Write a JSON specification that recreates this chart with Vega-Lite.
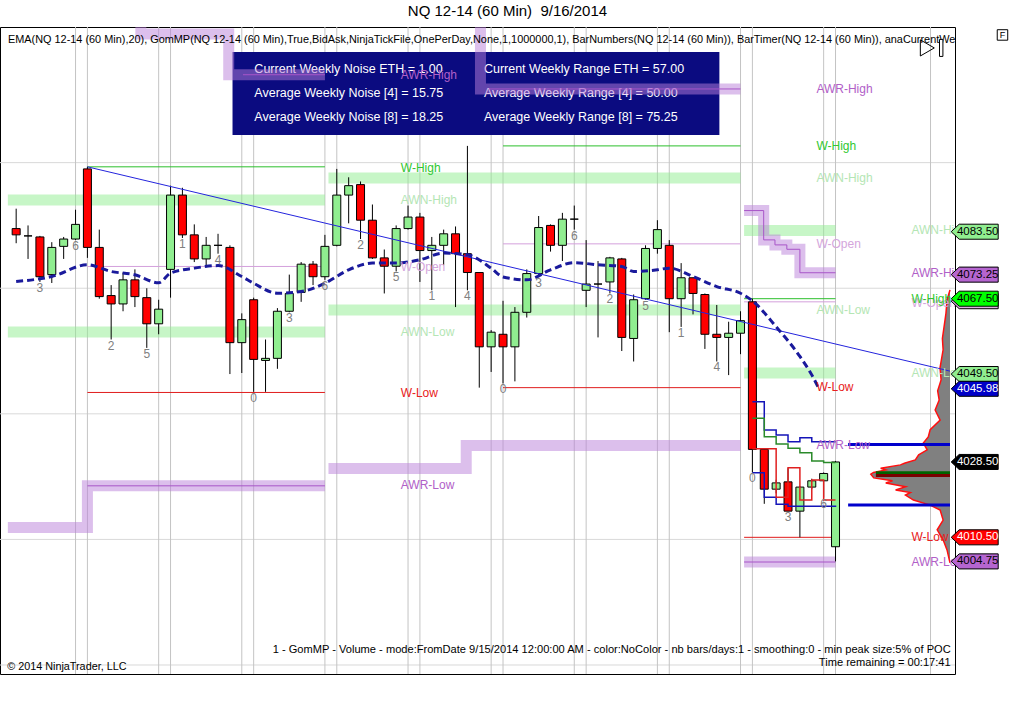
{
  "$schema": "https://vega.github.io/schema/vega-lite/v6.json",
  "description": "NQ 12-14 (60 Min) 9/16/2014 candlestick chart with weekly noise and range levels",
  "autosize": "none",
  "width": 955,
  "height": 647,
  "padding": {"left": 0, "top": 27, "right": 61, "bottom": 46},
  "background": "white",
  "title": {
    "text": "NQ 12-14 (60 Min)\u00a0 9/16/2014",
    "fontSize": 15,
    "fontWeight": "normal",
    "font": "Liberation Sans",
    "color": "black",
    "anchor": "middle",
    "dx": 30,
    "offset": 8
  },
  "config": {
    "font": "Liberation Sans",
    "view": {"stroke": "black", "strokeWidth": 1},
    "text": {"font": "Liberation Sans"}
  },
  "datasets": {
    "hgrid": [{"p": 3980}, {"p": 4010}, {"p": 4040}, {"p": 4070}, {"p": 4100}],
    "vgrid": [
      {"x": 5}, {"x": 6}, {"x": 12}, {"x": 13}, {"x": 19}, {"x": 20}, {"x": 26}, {"x": 27},
      {"x": 33}, {"x": 34}, {"x": 40}, {"x": 41}, {"x": 47}, {"x": 48}, {"x": 54}, {"x": 55},
      {"x": 61}, {"x": 62}, {"x": 68}, {"x": 69}, {"x": 77}
    ],
    "box": [{"x": 18.22, "x2": 59.22, "p": 4126.45, "p2": 4106.6}],
    "boxtext": [
      {"t": "Current Weekly Noise ETH = 1.00", "x": 20.06, "p": 4122.4},
      {"t": "Average Weekly Noise [4] = 15.75", "x": 20.06, "p": 4116.65},
      {"t": "Average Weekly Noise [8] = 18.25", "x": 20.06, "p": 4110.9},
      {"t": "Current Weekly Range ETH = 57.00", "x": 39.39, "p": 4122.4},
      {"t": "Average Weekly Range [4] = 50.00", "x": 39.39, "p": 4116.65},
      {"t": "Average Weekly Range [8] = 75.25", "x": 39.39, "p": 4110.9}
    ],
    "bands": [
      {"id": "g1h", "k": "AWN", "x": -0.7, "p": 4091.1}, {"id": "g1h", "k": "AWN", "x": 26, "p": 4091.1},
      {"id": "g1l", "k": "AWN", "x": -0.7, "p": 4059.55}, {"id": "g1l", "k": "AWN", "x": 26, "p": 4059.55},
      {"id": "g2h", "k": "AWN", "x": 26.3, "p": 4096.35}, {"id": "g2h", "k": "AWN", "x": 61, "p": 4096.35},
      {"id": "g2l", "k": "AWN", "x": 26.3, "p": 4064.8}, {"id": "g2l", "k": "AWN", "x": 61, "p": 4064.8},
      {"id": "g3h", "k": "AWN", "x": 61.3, "p": 4083.8}, {"id": "g3h", "k": "AWN", "x": 69, "p": 4083.8},
      {"id": "g3l", "k": "AWN", "x": 61.3, "p": 4049.75}, {"id": "g3l", "k": "AWN", "x": 69, "p": 4049.75},
      {"id": "p1h", "k": "AWR", "x": 6, "p": 4140}, {"id": "p1h", "k": "AWR", "x": 10.5, "p": 4130.75},
      {"id": "p1h", "k": "AWR", "x": 17.9, "p": 4121}, {"id": "p1h", "k": "AWR", "x": 26, "p": 4121},
      {"id": "p1l", "k": "AWR", "x": -0.7, "p": 4012.85}, {"id": "p1l", "k": "AWR", "x": 6, "p": 4022.8},
      {"id": "p1l", "k": "AWR", "x": 26, "p": 4022.8},
      {"id": "p2h", "k": "AWR", "x": 26.3, "p": 4140}, {"id": "p2h", "k": "AWR", "x": 39.1, "p": 4117.6},
      {"id": "p2h", "k": "AWR", "x": 61, "p": 4117.6},
      {"id": "p2l", "k": "AWR", "x": 26.3, "p": 4026.95}, {"id": "p2l", "k": "AWR", "x": 37.9, "p": 4032.45},
      {"id": "p2l", "k": "AWR", "x": 61, "p": 4032.45},
      {"id": "p3h", "k": "AWR", "x": 61.3, "p": 4088.55}, {"id": "p3h", "k": "AWR", "x": 62.95, "p": 4081.55},
      {"id": "p3h", "k": "AWR", "x": 63.9, "p": 4080.35}, {"id": "p3h", "k": "AWR", "x": 64.9, "p": 4079.3},
      {"id": "p3h", "k": "AWR", "x": 66, "p": 4073.7}, {"id": "p3h", "k": "AWR", "x": 69, "p": 4073.7},
      {"id": "p3l", "k": "AWR", "x": 61.3, "p": 4004.6}, {"id": "p3l", "k": "AWR", "x": 69, "p": 4004.6}
    ],
    "awrline": [
      {"id": "l1h", "x": 19.1, "p": 4121}, {"id": "l1h", "x": 26, "p": 4121},
      {"id": "l1l", "x": 6, "p": 4022.8}, {"id": "l1l", "x": 26, "p": 4022.8},
      {"id": "l2h", "x": 39.8, "p": 4117.6}, {"id": "l2h", "x": 61, "p": 4117.6},
      {"id": "l3h", "x": 61.3, "p": 4088.55}, {"id": "l3h", "x": 62.95, "p": 4081.55},
      {"id": "l3h", "x": 63.9, "p": 4080.35}, {"id": "l3h", "x": 64.9, "p": 4079.3},
      {"id": "l3h", "x": 66, "p": 4073.7}, {"id": "l3h", "x": 69, "p": 4073.7},
      {"id": "l3l", "x": 61.3, "p": 4004.6}, {"id": "l3l", "x": 69, "p": 4004.6}
    ],
    "hlines": [
      {"k": "WH", "x": 6, "x2": 26, "p": 4099}, {"k": "WH", "x": 41, "x2": 61, "p": 4104},
      {"k": "WH", "x": 61.3, "x2": 69, "p": 4067.5},
      {"k": "WO", "x": 6, "x2": 26, "p": 4075.2}, {"k": "WO", "x": 41, "x2": 61, "p": 4080.6},
      {"k": "WO", "x": 61.3, "x2": 69, "p": 4066.75},
      {"k": "WL", "x": 6, "x2": 26, "p": 4045.1}, {"k": "WL", "x": 41, "x2": 61, "p": 4046.25},
      {"k": "WL", "x": 61.3, "x2": 69, "p": 4010.5}
    ],
    "profile": [
      {"x": 78.64, "p": 4069.6}, {"x": 78.39, "p": 4067.2}, {"x": 78.3, "p": 4064.0},
      {"x": 78.22, "p": 4062.4}, {"x": 78.0, "p": 4058.0}, {"x": 78.06, "p": 4055.3},
      {"x": 77.8, "p": 4051.0}, {"x": 77.89, "p": 4048.1}, {"x": 77.6, "p": 4045.5},
      {"x": 77.73, "p": 4043.3}, {"x": 77.39, "p": 4040.9}, {"x": 77.81, "p": 4038.5},
      {"x": 76.97, "p": 4036.2}, {"x": 76.81, "p": 4034.5}, {"x": 76.39, "p": 4033.0},
      {"x": 76.72, "p": 4031.4}, {"x": 76.0, "p": 4030.2}, {"x": 75.72, "p": 4029.0},
      {"x": 74.8, "p": 4028.2}, {"x": 74.47, "p": 4027.8}, {"x": 72.8, "p": 4027.0},
      {"x": 73.23, "p": 4026.6}, {"x": 72.2, "p": 4026.0}, {"x": 71.97, "p": 4025.6},
      {"x": 72.22, "p": 4024.7}, {"x": 73.8, "p": 4024.0}, {"x": 73.23, "p": 4023.5},
      {"x": 74.9, "p": 4022.6}, {"x": 74.06, "p": 4021.8}, {"x": 75.3, "p": 4021.2},
      {"x": 74.89, "p": 4020.6}, {"x": 75.56, "p": 4019.4}, {"x": 76.97, "p": 4018.2},
      {"x": 77.81, "p": 4017.0}, {"x": 78.06, "p": 4014.6}, {"x": 77.56, "p": 4012.3},
      {"x": 78.06, "p": 4009.9}, {"x": 78.39, "p": 4007.5}, {"x": 78.64, "p": 4004.4}
    ],
    "va": [
      {"k": "VA", "x": 70.06, "x2": 78.64, "p": 4032.7},
      {"k": "VA", "x": 70.06, "x2": 78.64, "p": 4018.2},
      {"k": "POCg", "x": 72.4, "x2": 78.64, "p": 4025.9},
      {"k": "POCr", "x": 72.4, "x2": 78.64, "p": 4025.25}
    ],
    "dev": [
      {"id": "vah", "x": 62, "p": 4042.9}, {"id": "vah", "x": 63, "p": 4036.15}, {"id": "vah", "x": 64, "p": 4034.95},
      {"id": "vah", "x": 65, "p": 4033.35}, {"id": "vah", "x": 66, "p": 4034.3}, {"id": "vah", "x": 67, "p": 4033.35},
      {"id": "vah", "x": 69, "p": 4033.35},
      {"id": "val", "x": 62, "p": 4025.95}, {"id": "val", "x": 63, "p": 4020.1}, {"id": "val", "x": 64, "p": 4018.4},
      {"id": "val", "x": 65, "p": 4017.9}, {"id": "val", "x": 69, "p": 4018.1},
      {"id": "mid", "x": 62, "p": 4038.95}, {"id": "mid", "x": 63, "p": 4034.55}, {"id": "mid", "x": 64, "p": 4032.8},
      {"id": "mid", "x": 65, "p": 4031.8}, {"id": "mid", "x": 66, "p": 4030.7}, {"id": "mid", "x": 67, "p": 4028.75},
      {"id": "mid", "x": 68, "p": 4028.35}, {"id": "mid", "x": 69, "p": 4028.35},
      {"id": "poc", "x": 62, "p": 4031.65}, {"id": "poc", "x": 64, "p": 4020.1}, {"id": "poc", "x": 65, "p": 4027.1},
      {"id": "poc", "x": 66, "p": 4019.4}, {"id": "poc", "x": 67, "p": 4024.2}, {"id": "poc", "x": 68, "p": 4019.4},
      {"id": "poc", "x": 69, "p": 4019.4}
    ],
    "trend": [{"x": 6, "x2": 78.64, "p": 4099, "p2": 4050.2}],
    "ema": [
      {"x": 0, "p": 4071.6}, {"x": 3, "p": 4072.8}, {"x": 6, "p": 4075.6}, {"x": 8, "p": 4074},
      {"x": 10, "p": 4073.2}, {"x": 12, "p": 4071.3}, {"x": 13, "p": 4073.6}, {"x": 15, "p": 4074.8},
      {"x": 17, "p": 4075.4}, {"x": 19, "p": 4072.8}, {"x": 20, "p": 4071.2}, {"x": 22, "p": 4068.8},
      {"x": 24, "p": 4069.2}, {"x": 26, "p": 4071.2}, {"x": 28, "p": 4074.4}, {"x": 30, "p": 4076},
      {"x": 32, "p": 4076}, {"x": 34, "p": 4076.8}, {"x": 36, "p": 4078.4}, {"x": 38, "p": 4078},
      {"x": 40, "p": 4074.8}, {"x": 41, "p": 4072.7}, {"x": 43, "p": 4072}, {"x": 45, "p": 4074.4},
      {"x": 47, "p": 4076.1}, {"x": 49, "p": 4075.6}, {"x": 51, "p": 4075.2}, {"x": 52, "p": 4074},
      {"x": 54, "p": 4074.4}, {"x": 55, "p": 4074.8}, {"x": 57, "p": 4072.8}, {"x": 59, "p": 4070.4},
      {"x": 61, "p": 4068.8}, {"x": 62, "p": 4067}, {"x": 64, "p": 4060.8}, {"x": 66, "p": 4053.7},
      {"x": 67, "p": 4049.3}, {"x": 67.6, "p": 4046}
    ],
    "candles": [
      {"x": 0, "o": 4084.25, "h": 4089, "l": 4080.75, "c": 4082.75},
      {"x": 1, "o": 4082.5, "h": 4085, "l": 4077, "c": 4082.5},
      {"x": 2, "o": 4082.25, "h": 4082.5, "l": 4071.5, "c": 4072.75, "n": "3"},
      {"x": 3, "o": 4073.25, "h": 4081, "l": 4071.25, "c": 4079.75},
      {"x": 4, "o": 4080, "h": 4082.25, "l": 4077, "c": 4081.75},
      {"x": 5, "o": 4081.75, "h": 4088.75, "l": 4081.5, "c": 4085.25, "n": "6"},
      {"x": 6, "o": 4098.5, "h": 4099, "l": 4077.25, "c": 4079.75},
      {"x": 7, "o": 4079.75, "h": 4084, "l": 4067.5, "c": 4068},
      {"x": 8, "o": 4068.25, "h": 4070.75, "l": 4057.75, "c": 4066.25, "n": "2"},
      {"x": 9, "o": 4066.25, "h": 4073.75, "l": 4064.5, "c": 4072},
      {"x": 10, "o": 4072, "h": 4074.5, "l": 4065.5, "c": 4068},
      {"x": 11, "o": 4067.75, "h": 4070, "l": 4055.75, "c": 4061.5, "n": "5"},
      {"x": 12, "o": 4061.5, "h": 4067.25, "l": 4059, "c": 4065},
      {"x": 13, "o": 4074.5, "h": 4094.5, "l": 4067.75, "c": 4092.25},
      {"x": 14, "o": 4092.25, "h": 4094, "l": 4082, "c": 4082.75, "n": "1"},
      {"x": 15, "o": 4082.75, "h": 4085.25, "l": 4076.25, "c": 4077},
      {"x": 16, "o": 4077, "h": 4082.25, "l": 4075, "c": 4080.25},
      {"x": 17, "o": 4080.25, "h": 4083, "l": 4078.25, "c": 4080.25, "n": "4"},
      {"x": 18, "o": 4079.75, "h": 4080.25, "l": 4049.5, "c": 4057},
      {"x": 19, "o": 4057, "h": 4064, "l": 4049.75, "c": 4062.5},
      {"x": 20, "o": 4067.25, "h": 4067.75, "l": 4045.25, "c": 4053, "n": "0"},
      {"x": 21, "o": 4052.75, "h": 4057.75, "l": 4045.25, "c": 4053.25},
      {"x": 22, "o": 4053.25, "h": 4065.25, "l": 4050.75, "c": 4064.5},
      {"x": 23, "o": 4064.5, "h": 4073.25, "l": 4064.25, "c": 4068.75, "n": "3"},
      {"x": 24, "o": 4069, "h": 4076.25, "l": 4066.75, "c": 4075.75},
      {"x": 25, "o": 4075.75, "h": 4076.5, "l": 4070.75, "c": 4072.75},
      {"x": 26, "o": 4072.75, "h": 4082.75, "l": 4072, "c": 4080, "n": "6"},
      {"x": 27, "o": 4080.25, "h": 4098.5, "l": 4080, "c": 4092.25},
      {"x": 28, "o": 4092.25, "h": 4096.5, "l": 4085.5, "c": 4094.5},
      {"x": 29, "o": 4094.75, "h": 4095.5, "l": 4081.75, "c": 4086.25, "n": "2"},
      {"x": 30, "o": 4086.25, "h": 4090, "l": 4077, "c": 4077.25},
      {"x": 31, "o": 4077.25, "h": 4079.25, "l": 4068.75, "c": 4075.25},
      {"x": 32, "o": 4075.25, "h": 4085, "l": 4074, "c": 4084.25, "n": "5"},
      {"x": 33, "o": 4084.25, "h": 4089.75, "l": 4084, "c": 4087},
      {"x": 34, "o": 4087, "h": 4088, "l": 4071.5, "c": 4079},
      {"x": 35, "o": 4079, "h": 4082.25, "l": 4069.5, "c": 4080.25, "n": "1"},
      {"x": 36, "o": 4080.25, "h": 4084, "l": 4075.5, "c": 4083},
      {"x": 37, "o": 4083, "h": 4084.75, "l": 4065.5, "c": 4078.25},
      {"x": 38, "o": 4078.25, "h": 4104, "l": 4069.5, "c": 4073.75, "n": "4"},
      {"x": 39, "o": 4073.75, "h": 4073.75, "l": 4046.25, "c": 4056},
      {"x": 40, "o": 4056, "h": 4060, "l": 4050, "c": 4059.5},
      {"x": 41, "o": 4059, "h": 4067, "l": 4047.25, "c": 4056, "n": "0"},
      {"x": 42, "o": 4056, "h": 4065.5, "l": 4047.75, "c": 4064.25},
      {"x": 43, "o": 4064.25, "h": 4074.5, "l": 4063, "c": 4073.5},
      {"x": 44, "o": 4073.5, "h": 4087.25, "l": 4072.75, "c": 4084.5, "n": "3"},
      {"x": 45, "o": 4085, "h": 4085.25, "l": 4078.75, "c": 4080.25},
      {"x": 46, "o": 4080.25, "h": 4088, "l": 4076.5, "c": 4086.5},
      {"x": 47, "o": 4086.5, "h": 4089.75, "l": 4084, "c": 4086.5, "n": "6"},
      {"x": 48, "o": 4069.5, "h": 4081.5, "l": 4065.5, "c": 4071},
      {"x": 49, "o": 4071, "h": 4076.5, "l": 4058.25, "c": 4071},
      {"x": 50, "o": 4071.5, "h": 4077.5, "l": 4068.75, "c": 4077.25, "n": "2"},
      {"x": 51, "o": 4077, "h": 4077.25, "l": 4055, "c": 4058.25},
      {"x": 52, "o": 4058, "h": 4068.5, "l": 4052.5, "c": 4067.25},
      {"x": 53, "o": 4067.5, "h": 4080.25, "l": 4067.25, "c": 4079.5, "n": "5"},
      {"x": 54, "o": 4079.5, "h": 4086.25, "l": 4078.25, "c": 4084},
      {"x": 55, "o": 4080.25, "h": 4081.5, "l": 4059.5, "c": 4067.5},
      {"x": 56, "o": 4067.5, "h": 4076, "l": 4060.75, "c": 4072.5, "n": "1"},
      {"x": 57, "o": 4072.5, "h": 4072.5, "l": 4063.75, "c": 4068.75},
      {"x": 58, "o": 4068.5, "h": 4068.75, "l": 4055.5, "c": 4059},
      {"x": 59, "o": 4059, "h": 4066, "l": 4052.5, "c": 4058.25, "n": "4"},
      {"x": 60, "o": 4058.25, "h": 4062, "l": 4049.25, "c": 4059.25},
      {"x": 61, "o": 4059.25, "h": 4064.5, "l": 4054.25, "c": 4062.25},
      {"x": 62, "o": 4066.75, "h": 4067.5, "l": 4026, "c": 4031.5, "n": "0"},
      {"x": 63, "o": 4031.5, "h": 4031.5, "l": 4018.5, "c": 4022},
      {"x": 64, "o": 4022, "h": 4024.25, "l": 4021, "c": 4023.5},
      {"x": 65, "o": 4023.75, "h": 4027, "l": 4016.75, "c": 4016.75, "n": "3"},
      {"x": 66, "o": 4016.75, "h": 4022.75, "l": 4010.5, "c": 4022.5},
      {"x": 67, "o": 4022.5, "h": 4024.5, "l": 4022, "c": 4024},
      {"x": 68, "o": 4024, "h": 4026, "l": 4020, "c": 4025.75, "n": "6"},
      {"x": 69, "o": 4008.25, "h": 4028.75, "l": 4004.75, "c": 4028.5}
    ],
    "labels": [
      {"t": "AWR-High", "k": "AWR", "x": 32.39, "p": 4120.95},
      {"t": "W-High", "k": "WH", "x": 32.39, "p": 4098.8},
      {"t": "AWN-High", "k": "AWN", "x": 32.39, "p": 4091.1},
      {"t": "W-Open", "k": "WO", "x": 32.39, "p": 4075.0},
      {"t": "AWN-Low", "k": "AWN", "x": 32.39, "p": 4059.5},
      {"t": "W-Low", "k": "WL", "x": 32.39, "p": 4044.9},
      {"t": "AWR-Low", "k": "AWR", "x": 32.39, "p": 4023.0},
      {"t": "AWR-High", "k": "AWR", "x": 67.39, "p": 4117.6},
      {"t": "W-High", "k": "WH", "x": 67.39, "p": 4104},
      {"t": "AWN-High", "k": "AWN", "x": 67.39, "p": 4096.35},
      {"t": "W-Open", "k": "WO", "x": 67.39, "p": 4080.6},
      {"t": "AWN-Low", "k": "AWN", "x": 67.39, "p": 4064.8},
      {"t": "W-Low", "k": "WL", "x": 67.39, "p": 4046.4},
      {"t": "AWR-Low", "k": "AWR", "x": 67.39, "p": 4032.55},
      {"t": "AWN-High", "k": "AWN", "x": 75.39, "p": 4083.8},
      {"t": "AWR-High", "k": "AWR", "x": 75.39, "p": 4073.7},
      {"t": "W-Open", "k": "WO", "x": 75.39, "p": 4066.4},
      {"t": "W-High", "k": "WH", "x": 75.39, "p": 4067.5},
      {"t": "AWN-Low", "k": "AWN", "x": 75.39, "p": 4049.75},
      {"t": "W-Low", "k": "WL", "x": 75.39, "p": 4010.5},
      {"t": "AWR-Low", "k": "AWR", "x": 75.39, "p": 4004.6}
    ],
    "tags": [
      {"t": "4066.75", "k": "WO", "p": 4066.9},
      {"t": "4083.50", "k": "AWN", "p": 4083.5},
      {"t": "4073.25", "k": "AWR", "p": 4073.25},
      {"t": "4067.50", "k": "WH", "p": 4067.5},
      {"t": "4049.50", "k": "AWN", "p": 4049.5},
      {"t": "4045.98", "k": "EMA", "p": 4045.98},
      {"t": "4028.50", "k": "LAST", "p": 4028.5},
      {"t": "4010.50", "k": "WL", "p": 4010.5},
      {"t": "4004.75", "k": "AWR", "p": 4004.75}
    ]
  },
  "layer": [
    {
      "data": {"name": "hgrid"},
      "mark": {"type": "rule", "color": "#d9d9d9", "strokeWidth": 1},
      "encoding": {"y": {"field": "p", "type": "quantitative", "axis": null}}
    },
    {
      "data": {"name": "vgrid"},
      "mark": {"type": "rule", "color": "#c4c4c4", "strokeWidth": 1},
      "encoding": {"x": {"field": "x", "type": "quantitative", "axis": null}}
    },
    {
      "data": {"name": "box"},
      "mark": {"type": "rect", "color": "#0b0b80"},
      "encoding": {
        "x": {"field": "x", "type": "quantitative", "axis": null},
        "x2": {"field": "x2"},
        "y": {"field": "p", "type": "quantitative", "axis": null},
        "y2": {"field": "p2"}
      }
    },
    {
      "data": {"name": "boxtext"},
      "mark": {"type": "text", "color": "white", "fontSize": 12.5, "align": "left", "baseline": "middle"},
      "encoding": {
        "x": {"field": "x", "type": "quantitative", "axis": null},
        "y": {"field": "p", "type": "quantitative", "axis": null},
        "text": {"field": "t"}
      }
    },
    {
      "data": {"name": "bands"},
      "transform": [{"filter": "datum.k == 'AWN'"}],
      "mark": {"type": "line", "interpolate": "step-after", "strokeWidth": 11, "strokeCap": "butt", "color": "#90ee90", "opacity": 0.5, "clip": true},
      "encoding": {
        "x": {"field": "x", "type": "quantitative", "axis": null},
        "y": {"field": "p", "type": "quantitative", "axis": null},
        "detail": {"field": "id"}
      }
    },
    {
      "data": {"name": "bands"},
      "transform": [{"filter": "datum.k == 'AWR'"}],
      "mark": {"type": "line", "interpolate": "step-after", "strokeWidth": 11, "strokeCap": "butt", "color": "#b97fd9", "opacity": 0.5, "clip": true},
      "encoding": {
        "x": {"field": "x", "type": "quantitative", "axis": null},
        "y": {"field": "p", "type": "quantitative", "axis": null},
        "detail": {"field": "id"}
      }
    },
    {
      "data": {"name": "awrline"},
      "mark": {"type": "line", "interpolate": "step-after", "strokeWidth": 1, "color": "#a855c8", "clip": true},
      "encoding": {
        "x": {"field": "x", "type": "quantitative", "axis": null},
        "y": {"field": "p", "type": "quantitative", "axis": null},
        "detail": {"field": "id"}
      }
    },
    {
      "data": {"name": "hlines"},
      "mark": {"type": "rule", "strokeWidth": 1},
      "encoding": {
        "x": {"field": "x", "type": "quantitative", "axis": null},
        "x2": {"field": "x2"},
        "y": {"field": "p", "type": "quantitative", "axis": null},
        "color": {"field": "k", "type": "nominal", "legend": null,
          "scale": {"domain": ["WH", "WO", "WL"], "range": ["#2cbf2c", "#d4a0dc", "#e01c1c"]}}
      }
    },
    {
      "data": {"name": "profile"},
      "mark": {"type": "area", "orient": "horizontal", "color": "#808080", "opacity": 1},
      "encoding": {
        "y": {"field": "p", "type": "quantitative", "axis": null},
        "x": {"field": "x", "type": "quantitative", "axis": null},
        "x2": {"datum": 78.64}
      }
    },
    {
      "data": {"name": "profile"},
      "mark": {"type": "line", "color": "#ff1010", "strokeWidth": 1.5},
      "encoding": {
        "x": {"field": "x", "type": "quantitative", "axis": null},
        "y": {"field": "p", "type": "quantitative", "axis": null},
        "order": {"field": "p", "type": "quantitative"}
      }
    },
    {
      "data": {"name": "va"},
      "mark": {"type": "rule", "strokeWidth": 3},
      "encoding": {
        "x": {"field": "x", "type": "quantitative", "axis": null},
        "x2": {"field": "x2"},
        "y": {"field": "p", "type": "quantitative", "axis": null},
        "color": {"field": "k", "type": "nominal", "legend": null,
          "scale": {"domain": ["VA", "POCg", "POCr"], "range": ["#0000cc", "#006400", "#7a0000"]}}
      }
    },
    {
      "data": {"name": "candles"},
      "mark": {"type": "rule", "color": "black", "strokeWidth": 1},
      "encoding": {
        "x": {
          "field": "x", "type": "quantitative",
          "scale": {"domain": [-0.94, 78.64], "nice": false, "zero": false},
          "axis": {
            "title": null, "grid": false, "domain": false,
            "values": [6, 13, 20, 27, 34, 41, 48, 55, 62, 69, 77],
            "labelExpr": "['9/3','9/4','9/5','9/8','9/9','9/10','9/11','9/12','9/15','9/16','9/16'][indexof([6,13,20,27,34,41,48,55,62,69,77], datum.value)]",
            "tickSize": 4, "tickColor": "black", "labelFontSize": 11, "labelColor": "black",
            "labelPadding": 3, "labelFlush": false, "labelOverlap": false
          }
        },
        "y": {
          "field": "l", "type": "quantitative",
          "scale": {"domain": [3977.85, 4132.4], "nice": false, "zero": false},
          "axis": {
            "title": null, "orient": "right", "grid": false,
            "values": [3980, 3990, 4000, 4010, 4020, 4030, 4040, 4050, 4060, 4070, 4080, 4090, 4100, 4110, 4120],
            "format": ".2f", "domain": true, "domainColor": "black", "tickSize": 5, "tickColor": "black",
            "labelFontSize": 11, "labelColor": "black", "labelPadding": 2
          }
        },
        "y2": {"field": "h"}
      }
    },
    {
      "data": {"name": "candles"},
      "mark": {"type": "bar", "size": 8, "stroke": "black", "strokeWidth": 1},
      "encoding": {
        "x": {"field": "x", "type": "quantitative", "axis": null},
        "y": {"field": "o", "type": "quantitative", "axis": null},
        "y2": {"field": "c"},
        "fill": {"condition": {"test": "datum.c > datum.o", "value": "#90ee90"}, "value": "#ff0000"}
      }
    },
    {
      "data": {"name": "dev"},
      "mark": {"type": "line", "interpolate": "step-after", "strokeWidth": 1.5},
      "encoding": {
        "x": {"field": "x", "type": "quantitative", "axis": null},
        "y": {"field": "p", "type": "quantitative", "axis": null},
        "detail": {"field": "id"},
        "stroke": {"field": "id", "type": "nominal", "legend": null,
          "scale": {"domain": ["vah", "val", "mid", "poc"], "range": ["#1414b8", "#1414b8", "#2a8a2a", "#e02020"]}}
      }
    },
    {
      "data": {"name": "trend"},
      "mark": {"type": "rule", "color": "#2424dd", "strokeWidth": 1},
      "encoding": {
        "x": {"field": "x", "type": "quantitative", "axis": null},
        "x2": {"field": "x2"},
        "y": {"field": "p", "type": "quantitative", "axis": null},
        "y2": {"field": "p2"}
      }
    },
    {
      "data": {"name": "ema"},
      "mark": {"type": "line", "interpolate": "monotone", "color": "#1a1a9c", "strokeWidth": 3, "strokeDash": [7, 4]},
      "encoding": {
        "x": {"field": "x", "type": "quantitative", "axis": null},
        "y": {"field": "p", "type": "quantitative", "axis": null}
      }
    },
    {
      "data": {"name": "candles"},
      "transform": [{"filter": "isValid(datum.n)"}],
      "mark": {"type": "text", "color": "#808080", "fontSize": 12, "baseline": "top", "dy": 1},
      "encoding": {
        "x": {"field": "x", "type": "quantitative", "axis": null},
        "y": {"field": "l", "type": "quantitative", "axis": null},
        "text": {"field": "n"}
      }
    },
    {
      "data": {"name": "labels"},
      "mark": {"type": "text", "fontSize": 12, "align": "left", "baseline": "middle", "clip": true},
      "encoding": {
        "x": {"field": "x", "type": "quantitative", "axis": null},
        "y": {"field": "p", "type": "quantitative", "axis": null},
        "text": {"field": "t"},
        "color": {"field": "k", "type": "nominal", "legend": null,
          "scale": {"domain": ["AWR", "WH", "AWN", "WO", "WL"], "range": ["#b160c8", "#30c830", "#b4e6b4", "#d4a6dc", "#e82020"]}}
      }
    },
    {
      "data": {"values": [{"t": "EMA(NQ 12-14 (60 Min),20), GomMP(NQ 12-14 (60 Min),True,BidAsk,NinjaTickFile,OnePerDay,None,1,1000000,1), BarNumbers(NQ 12-14 (60 Min)), BarTimer(NQ 12-14 (60 Min)), anaCurrentWeekNoise(NQ 12-14 (60 Min))", "x": -0.69, "p": 4129.3}]},
      "mark": {"type": "text", "fontSize": 10.9, "align": "left", "baseline": "middle", "color": "black", "clip": true},
      "encoding": {
        "x": {"field": "x", "type": "quantitative", "axis": null},
        "y": {"field": "p", "type": "quantitative", "axis": null},
        "text": {"field": "t"}
      }
    },
    {
      "data": {"values": [
        {"t": "1 - GomMP  - Volume - mode:FromDate 9/15/2014 12:00:00 AM - color:NoColor - nb bars/days:1 - smoothing:0 - min peak size:5% of POC", "x": 78.7, "p": 3983.6},
        {"t": "Time remaining = 00:17:41", "x": 78.7, "p": 3980.5}
      ]},
      "mark": {"type": "text", "fontSize": 11.1, "align": "right", "baseline": "middle", "color": "black"},
      "encoding": {
        "x": {"field": "x", "type": "quantitative", "axis": null},
        "y": {"field": "p", "type": "quantitative", "axis": null},
        "text": {"field": "t"}
      }
    },
    {
      "data": {"values": [{"t": "© 2014 NinjaTrader, LLC", "x": -0.75, "p": 3979.5}]},
      "mark": {"type": "text", "fontSize": 10.8, "align": "left", "baseline": "middle", "color": "black"},
      "encoding": {
        "x": {"field": "x", "type": "quantitative", "axis": null},
        "y": {"field": "p", "type": "quantitative", "axis": null},
        "text": {"field": "t"}
      }
    },
    {
      "data": {"name": "tags"},
      "transform": [{"filter": "datum.k == 'WO'"}],
      "mark": {"type": "point", "filled": true, "opacity": 1, "size": 2209, "stroke": "black", "strokeWidth": 1,
        "shape": "M -1 0 L -0.66 -0.32 L 1 -0.32 L 1 0.32 L -0.66 0.32 Z", "fill": "#dcb0e0"},
      "encoding": {
        "x": {"datum": 80.72},
        "y": {"field": "p", "type": "quantitative", "axis": null}
      }
    },
    {
      "data": {"name": "tags"},
      "transform": [{"filter": "datum.k == 'WO'"}],
      "mark": {"type": "text", "fontSize": 11.5, "align": "center", "baseline": "middle", "color": "black"},
      "encoding": {
        "x": {"datum": 80.97},
        "y": {"field": "p", "type": "quantitative", "axis": null},
        "text": {"field": "t"}
      }
    },
    {
      "data": {"name": "tags"},
      "transform": [{"filter": "datum.k != 'WO'"}],
      "mark": {"type": "point", "filled": true, "opacity": 1, "size": 2209, "stroke": "black", "strokeWidth": 1,
        "shape": "M -1 0 L -0.66 -0.32 L 1 -0.32 L 1 0.32 L -0.66 0.32 Z"},
      "encoding": {
        "x": {"datum": 80.72},
        "y": {"field": "p", "type": "quantitative", "axis": null},
        "fill": {"field": "k", "type": "nominal", "legend": null,
          "scale": {"domain": ["AWN", "AWR", "WH", "EMA", "LAST", "WL"],
            "range": ["#90ee90", "#b565d0", "#00ff00", "#0000c8", "#000000", "#ff0000"]}}
      }
    },
    {
      "data": {"name": "tags"},
      "transform": [{"filter": "datum.k != 'WO'"}],
      "mark": {"type": "text", "fontSize": 11.5, "align": "center", "baseline": "middle"},
      "encoding": {
        "x": {"datum": 80.97},
        "y": {"field": "p", "type": "quantitative", "axis": null},
        "text": {"field": "t"},
        "color": {"field": "k", "type": "nominal", "legend": null,
          "scale": {"domain": ["AWN", "AWR", "WH", "EMA", "LAST", "WL"],
            "range": ["black", "black", "black", "white", "white", "white"]}}
      }
    },
    {
      "data": {"values": [{"x": 83.06, "p": 4130.5}]},
      "mark": {"type": "point", "shape": "square", "size": 110, "filled": true, "fill": "white", "stroke": "black", "strokeWidth": 1, "opacity": 1},
      "encoding": {
        "x": {"field": "x", "type": "quantitative", "axis": null},
        "y": {"field": "p", "type": "quantitative", "axis": null}
      }
    },
    {
      "data": {"values": [{"t": "F", "x": 83.06, "p": 4130.5}]},
      "mark": {"type": "text", "fontSize": 9, "align": "center", "baseline": "middle", "color": "black"},
      "encoding": {
        "x": {"field": "x", "type": "quantitative", "axis": null},
        "y": {"field": "p", "type": "quantitative", "axis": null},
        "text": {"field": "t"}
      }
    },
    {
      "data": {"values": [{"x": 76.73, "p": 4127.4}]},
      "mark": {"type": "point", "shape": "triangle-right", "size": 260, "filled": false, "stroke": "black", "strokeWidth": 1, "opacity": 1},
      "encoding": {
        "x": {"field": "x", "type": "quantitative", "axis": null},
        "y": {"field": "p", "type": "quantitative", "axis": null}
      }
    },
    {
      "data": {"values": [{"x": 77.9, "p": 4127.4}]},
      "mark": {"type": "point", "shape": "M -0.2 -1 L 0.2 -1 L 0.2 1 L -0.2 1 Z", "size": 289, "filled": true, "fill": "white", "stroke": "black", "strokeWidth": 1, "opacity": 1},
      "encoding": {
        "x": {"field": "x", "type": "quantitative", "axis": null},
        "y": {"field": "p", "type": "quantitative", "axis": null}
      }
    }
  ],
  "resolve": {"scale": {"color": "independent", "fill": "independent", "stroke": "independent"}}
}
